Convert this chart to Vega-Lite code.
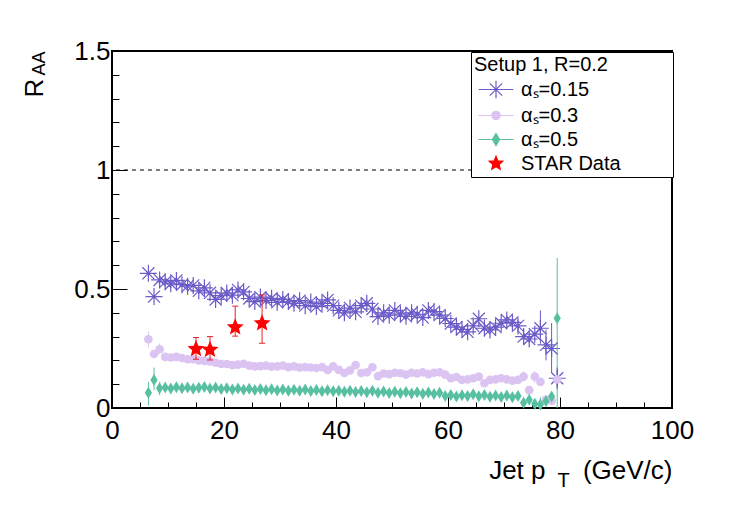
{
  "$schema": "https://vega.github.io/schema/vega-lite/v6.json",
  "width": 560,
  "height": 357,
  "autosize": {"type": "none"},
  "padding": {"left": 112, "top": 51, "right": 75, "bottom": 102},
  "background": "white",
  "config": {
    "font": "Liberation Sans",
    "view": {"stroke": "black", "strokeWidth": 2},
    "axis": {
      "grid": false,
      "domain": false,
      "labelFont": "Liberation Sans",
      "labelFontSize": 26,
      "labelColor": "black",
      "titleFont": "Liberation Sans",
      "titleFontWeight": "normal",
      "titleColor": "black",
      "tickColor": "black",
      "tickWidth": 1,
      "labelOverlap": false,
      "labelFlush": false,
      "labelBound": false
    }
  },
  "datasets": {
    "a015": [
      {"pt": 6.5, "r": 0.566}, {"pt": 7.5, "r": 0.468}, {"pt": 8.5, "r": 0.538}, {"pt": 9.5, "r": 0.53},
      {"pt": 10.5, "r": 0.522}, {"pt": 11.5, "r": 0.536}, {"pt": 12.5, "r": 0.518}, {"pt": 13.5, "r": 0.512},
      {"pt": 14.5, "r": 0.515}, {"pt": 15.5, "r": 0.492}, {"pt": 16.5, "r": 0.505}, {"pt": 17.5, "r": 0.484},
      {"pt": 18.5, "r": 0.456}, {"pt": 19.5, "r": 0.472}, {"pt": 20.5, "r": 0.483}, {"pt": 21.5, "r": 0.474},
      {"pt": 22.5, "r": 0.496}, {"pt": 23.5, "r": 0.488}, {"pt": 24.5, "r": 0.46}, {"pt": 25.5, "r": 0.447},
      {"pt": 26.5, "r": 0.466}, {"pt": 27.5, "r": 0.452}, {"pt": 28.5, "r": 0.461}, {"pt": 29.5, "r": 0.444},
      {"pt": 30.5, "r": 0.456}, {"pt": 31.5, "r": 0.447}, {"pt": 32.5, "r": 0.44}, {"pt": 33.5, "r": 0.451},
      {"pt": 34.5, "r": 0.43}, {"pt": 35.5, "r": 0.445}, {"pt": 36.5, "r": 0.426}, {"pt": 37.5, "r": 0.44},
      {"pt": 38.5, "r": 0.454}, {"pt": 39.5, "r": 0.43}, {"pt": 40.5, "r": 0.41}, {"pt": 41.5, "r": 0.4},
      {"pt": 42.5, "r": 0.42}, {"pt": 43.5, "r": 0.404}, {"pt": 44.5, "r": 0.43}, {"pt": 45.5, "r": 0.44},
      {"pt": 46.5, "r": 0.416}, {"pt": 47.5, "r": 0.384}, {"pt": 48.5, "r": 0.4}, {"pt": 49.5, "r": 0.39},
      {"pt": 50.5, "r": 0.41}, {"pt": 51.5, "r": 0.395}, {"pt": 52.5, "r": 0.385}, {"pt": 53.5, "r": 0.4},
      {"pt": 54.5, "r": 0.394}, {"pt": 55.5, "r": 0.38}, {"pt": 56.5, "r": 0.41}, {"pt": 57.5, "r": 0.405},
      {"pt": 58.5, "r": 0.39}, {"pt": 59.5, "r": 0.376}, {"pt": 60.5, "r": 0.355}, {"pt": 61.5, "r": 0.34},
      {"pt": 62.5, "r": 0.33}, {"pt": 63.5, "r": 0.32}, {"pt": 64.5, "r": 0.345}, {"pt": 65.5, "r": 0.375},
      {"pt": 66.5, "r": 0.335}, {"pt": 67.5, "r": 0.328}, {"pt": 68.5, "r": 0.34}, {"pt": 69.5, "r": 0.356},
      {"pt": 70.5, "r": 0.37}, {"pt": 71.5, "r": 0.36}, {"pt": 72.5, "r": 0.345}, {"pt": 73.5, "r": 0.3},
      {"pt": 74.5, "r": 0.29}, {"pt": 75.5, "r": 0.31}, {"pt": 76.5, "r": 0.335}, {"pt": 77.5, "r": 0.265},
      {"pt": 78.5, "r": 0.25}, {"pt": 79.5, "r": 0.125}
    ],
    "a03": [
      {"pt": 6.5, "r": 0.289}, {"pt": 7.5, "r": 0.227}, {"pt": 8.5, "r": 0.247}, {"pt": 9.5, "r": 0.215},
      {"pt": 10.5, "r": 0.212}, {"pt": 11.5, "r": 0.215}, {"pt": 12.5, "r": 0.21}, {"pt": 13.5, "r": 0.205},
      {"pt": 14.5, "r": 0.205}, {"pt": 15.5, "r": 0.2}, {"pt": 16.5, "r": 0.198}, {"pt": 17.5, "r": 0.196},
      {"pt": 18.5, "r": 0.19}, {"pt": 19.5, "r": 0.185}, {"pt": 20.5, "r": 0.185}, {"pt": 21.5, "r": 0.18},
      {"pt": 22.5, "r": 0.182}, {"pt": 23.5, "r": 0.186}, {"pt": 24.5, "r": 0.178}, {"pt": 25.5, "r": 0.175},
      {"pt": 26.5, "r": 0.176}, {"pt": 27.5, "r": 0.178}, {"pt": 28.5, "r": 0.174}, {"pt": 29.5, "r": 0.175},
      {"pt": 30.5, "r": 0.178}, {"pt": 31.5, "r": 0.172}, {"pt": 32.5, "r": 0.175}, {"pt": 33.5, "r": 0.17},
      {"pt": 34.5, "r": 0.172}, {"pt": 35.5, "r": 0.17}, {"pt": 36.5, "r": 0.168}, {"pt": 37.5, "r": 0.172},
      {"pt": 38.5, "r": 0.16}, {"pt": 39.5, "r": 0.175}, {"pt": 40.5, "r": 0.16}, {"pt": 41.5, "r": 0.147},
      {"pt": 42.5, "r": 0.158}, {"pt": 43.5, "r": 0.18}, {"pt": 44.5, "r": 0.147}, {"pt": 45.5, "r": 0.15},
      {"pt": 46.5, "r": 0.171}, {"pt": 47.5, "r": 0.134}, {"pt": 48.5, "r": 0.145}, {"pt": 49.5, "r": 0.142},
      {"pt": 50.5, "r": 0.148}, {"pt": 51.5, "r": 0.146}, {"pt": 52.5, "r": 0.14}, {"pt": 53.5, "r": 0.148},
      {"pt": 54.5, "r": 0.145}, {"pt": 55.5, "r": 0.15}, {"pt": 56.5, "r": 0.142}, {"pt": 57.5, "r": 0.148},
      {"pt": 58.5, "r": 0.15}, {"pt": 59.5, "r": 0.14}, {"pt": 60.5, "r": 0.125}, {"pt": 61.5, "r": 0.13},
      {"pt": 62.5, "r": 0.118}, {"pt": 63.5, "r": 0.12}, {"pt": 64.5, "r": 0.125}, {"pt": 65.5, "r": 0.132},
      {"pt": 66.5, "r": 0.104}, {"pt": 67.5, "r": 0.118}, {"pt": 68.5, "r": 0.12}, {"pt": 69.5, "r": 0.125},
      {"pt": 70.5, "r": 0.12}, {"pt": 71.5, "r": 0.115}, {"pt": 72.5, "r": 0.118}, {"pt": 73.5, "r": 0.132},
      {"pt": 74.5, "r": 0.075}, {"pt": 75.5, "r": 0.132}, {"pt": 76.5, "r": 0.11}, {"pt": 77.5, "r": 0.035},
      {"pt": 78.5, "r": 0.03}, {"pt": 79.5, "r": 0.12}
    ],
    "a05": [
      {"pt": 6.5, "r": 0.064}, {"pt": 7.5, "r": 0.118}, {"pt": 8.5, "r": 0.083}, {"pt": 9.5, "r": 0.086},
      {"pt": 10.5, "r": 0.082}, {"pt": 11.5, "r": 0.087}, {"pt": 12.5, "r": 0.083}, {"pt": 13.5, "r": 0.086},
      {"pt": 14.5, "r": 0.081}, {"pt": 15.5, "r": 0.085}, {"pt": 16.5, "r": 0.088}, {"pt": 17.5, "r": 0.082},
      {"pt": 18.5, "r": 0.086}, {"pt": 19.5, "r": 0.08}, {"pt": 20.5, "r": 0.083}, {"pt": 21.5, "r": 0.078},
      {"pt": 22.5, "r": 0.082}, {"pt": 23.5, "r": 0.077}, {"pt": 24.5, "r": 0.081}, {"pt": 25.5, "r": 0.076},
      {"pt": 26.5, "r": 0.08}, {"pt": 27.5, "r": 0.075}, {"pt": 28.5, "r": 0.079}, {"pt": 29.5, "r": 0.074},
      {"pt": 30.5, "r": 0.078}, {"pt": 31.5, "r": 0.073}, {"pt": 32.5, "r": 0.077}, {"pt": 33.5, "r": 0.072},
      {"pt": 34.5, "r": 0.078}, {"pt": 35.5, "r": 0.071}, {"pt": 36.5, "r": 0.076}, {"pt": 37.5, "r": 0.07},
      {"pt": 38.5, "r": 0.075}, {"pt": 39.5, "r": 0.07}, {"pt": 40.5, "r": 0.073}, {"pt": 41.5, "r": 0.068},
      {"pt": 42.5, "r": 0.072}, {"pt": 43.5, "r": 0.067}, {"pt": 44.5, "r": 0.071}, {"pt": 45.5, "r": 0.066},
      {"pt": 46.5, "r": 0.072}, {"pt": 47.5, "r": 0.064}, {"pt": 48.5, "r": 0.069}, {"pt": 49.5, "r": 0.063},
      {"pt": 50.5, "r": 0.068}, {"pt": 51.5, "r": 0.062}, {"pt": 52.5, "r": 0.067}, {"pt": 53.5, "r": 0.061},
      {"pt": 54.5, "r": 0.066}, {"pt": 55.5, "r": 0.06}, {"pt": 56.5, "r": 0.065}, {"pt": 57.5, "r": 0.059},
      {"pt": 58.5, "r": 0.064}, {"pt": 59.5, "r": 0.05}, {"pt": 60.5, "r": 0.055}, {"pt": 61.5, "r": 0.048},
      {"pt": 62.5, "r": 0.054}, {"pt": 63.5, "r": 0.05}, {"pt": 64.5, "r": 0.058}, {"pt": 65.5, "r": 0.049},
      {"pt": 66.5, "r": 0.055}, {"pt": 67.5, "r": 0.047}, {"pt": 68.5, "r": 0.053}, {"pt": 69.5, "r": 0.046},
      {"pt": 70.5, "r": 0.052}, {"pt": 71.5, "r": 0.045}, {"pt": 72.5, "r": 0.05}, {"pt": 73.5, "r": 0.022},
      {"pt": 74.5, "r": 0.035}, {"pt": 75.5, "r": 0.018}, {"pt": 76.5, "r": 0.015}, {"pt": 77.5, "r": 0.028},
      {"pt": 78.5, "r": 0.048}, {"pt": 79.5, "r": 0.377}
    ],
    "err": [
      {"s": "\u03b1\u209b=0.3", "pt": 6.5, "lo": 0.255, "hi": 0.322},
      {"s": "\u03b1\u209b=0.3", "pt": 7.5, "lo": 0.212, "hi": 0.242},
      {"s": "\u03b1\u209b=0.3", "pt": 8.5, "lo": 0.225, "hi": 0.27},
      {"s": "\u03b1\u209b=0.3", "pt": 73.5, "lo": 0.11, "hi": 0.155},
      {"s": "\u03b1\u209b=0.3", "pt": 75.5, "lo": 0.105, "hi": 0.155},
      {"s": "\u03b1\u209b=0.5", "pt": 6.5, "lo": 0.01, "hi": 0.11},
      {"s": "\u03b1\u209b=0.5", "pt": 7.5, "lo": 0.075, "hi": 0.17},
      {"s": "\u03b1\u209b=0.5", "pt": 8.5, "lo": 0.055, "hi": 0.11},
      {"s": "\u03b1\u209b=0.5", "pt": 76.5, "lo": 0.0, "hi": 0.045},
      {"s": "\u03b1\u209b=0.5", "pt": 79.5, "lo": 0.0, "hi": 0.63},
      {"s": "\u03b1\u209b=0.15", "pt": 72.5, "lo": 0.32, "hi": 0.37},
      {"s": "\u03b1\u209b=0.15", "pt": 73.5, "lo": 0.27, "hi": 0.33},
      {"s": "\u03b1\u209b=0.15", "pt": 76.5, "lo": 0.27, "hi": 0.41},
      {"s": "\u03b1\u209b=0.15", "pt": 77.5, "lo": 0.2, "hi": 0.33},
      {"s": "\u03b1\u209b=0.15", "pt": 78.5, "lo": 0.147, "hi": 0.357},
      {"s": "\u03b1\u209b=0.15", "pt": 79.5, "lo": 0.08, "hi": 0.17}
    ],
    "star": [
      {"pt": 15.0, "r": 0.248, "lo": 0.205, "hi": 0.296},
      {"pt": 17.5, "r": 0.245, "lo": 0.202, "hi": 0.3},
      {"pt": 22.0, "r": 0.339, "lo": 0.302, "hi": 0.428},
      {"pt": 26.8, "r": 0.356, "lo": 0.272, "hi": 0.475}
    ]
  },
  "resolve": {"axis": {"x": "independent", "y": "independent"}},
  "layer": [
    {
      "data": {"values": [{}]},
      "mark": {"type": "rule", "strokeDash": [4, 4], "color": "black", "strokeWidth": 1},
      "encoding": {
        "y": {"datum": 1, "type": "quantitative", "scale": {"domain": [0, 1.5], "nice": false}, "axis": null}
      }
    },
    {
      "data": {"name": "err"},
      "mark": {"type": "rule", "strokeWidth": 1},
      "encoding": {
        "x": {"field": "pt", "type": "quantitative", "axis": null},
        "y": {"field": "lo", "type": "quantitative", "axis": null},
        "y2": {"field": "hi"},
        "color": {
          "field": "s",
          "type": "nominal",
          "scale": {
            "domain": ["\u03b1\u209b=0.15", "\u03b1\u209b=0.3", "\u03b1\u209b=0.5", "STAR Data"],
            "range": ["#6A5BC8", "#DCC4F2", "#58C0A0", "#FF0000"]
          },
          "legend": {
            "title": "Setup 1, R=0.2",
            "orient": "none",
            "legendX": 359,
            "legendY": 1,
            "padding": 3,
            "strokeColor": "black",
            "fillColor": "white",
            "titleFont": "Liberation Sans",
            "titleFontSize": 20,
            "titleFontWeight": "normal",
            "titleColor": "black",
            "titlePadding": 3.5,
            "titleLimit": 400,
            "labelFont": "Liberation Sans",
            "labelFontSize": 20,
            "labelColor": "black",
            "labelOffset": 14,
            "labelLimit": 400,
            "symbolOffset": 11,
            "rowPadding": 3,
            "encode": {
              "symbols": {
                "update": {
                  "shape": {"signal": "['M-1.75,0L1.75,0M0,-0.875L0,0.875M-0.619,-0.619L0.619,0.619M-0.619,0.619L0.619,-0.619', 'M-1.75,0L1.75,0M-0.42,0A0.42,0.42,0,1,0,0.42,0A0.42,0.42,0,1,0,-0.42,0Z', 'M-1.75,0L1.75,0M0,-0.6L0.35,0L0,0.6L-0.35,0Z', 'M0,-0.72L0.191,-0.262L0.685,-0.222L0.308,0.1L0.423,0.582L0,0.324L-0.423,0.582L-0.308,0.1L-0.685,-0.222L-0.191,-0.262ZM17.1,0L17.1,0'][datum.index]"},
                  "size": {"value": 400},
                  "fill": {"signal": "['transparent', '#DCC4F2', '#58C0A0', '#FF0000'][datum.index]"},
                  "stroke": {"signal": "['#6A5BC8', '#DCC4F2', '#58C0A0', 'transparent'][datum.index]"},
                  "strokeWidth": {"value": 1.2},
                  "strokeDash": {"value": []},
                  "opacity": {"value": 1}
                }
              }
            }
          }
        }
      }
    },
    {
      "data": {"name": "a015"},
      "mark": {
        "type": "point",
        "shape": "M-1,0L1,0M0,-1L0,1M-0.707,-0.707L0.707,0.707M-0.707,0.707L0.707,-0.707",
        "filled": false,
        "size": 289,
        "strokeWidth": 1.2,
        "opacity": 1
      },
      "encoding": {
        "x": {
          "field": "pt",
          "type": "quantitative",
          "scale": {"domain": [0, 100], "nice": false},
          "axis": {
            "orient": "bottom",
            "values": [0, 20, 40, 60, 80, 100],
            "tickSize": -11,
            "labelPadding": 20,
            "title": "(GeV/c)",
            "titleFontSize": 26,
            "titleX": 560,
            "titleY": 70,
            "titleAlign": "right",
            "titleBaseline": "alphabetic"
          }
        },
        "y": {
          "field": "r",
          "type": "quantitative",
          "scale": {"domain": [0, 1.5], "nice": false},
          "axis": {
            "orient": "left",
            "values": [0, 0.5, 1, 1.5],
            "labelExpr": "'' + datum.value",
            "tickSize": -15,
            "labelPadding": 17,
            "title": "R",
            "titleFontSize": 26,
            "titleAngle": 270,
            "titleX": -70,
            "titleY": 46,
            "titleAlign": "left",
            "titleBaseline": "alphabetic"
          }
        },
        "color": {"datum": "\u03b1\u209b=0.15", "type": "nominal"}
      }
    },
    {
      "data": {"name": "a03"},
      "mark": {"type": "circle", "size": 75, "opacity": 1},
      "encoding": {
        "x": {
          "field": "pt",
          "type": "quantitative",
          "axis": {
            "orient": "bottom",
            "values": [5, 10, 15, 25, 30, 35, 45, 50, 55, 65, 70, 75, 85, 90, 95],
            "tickSize": -6,
            "labels": false,
            "title": "T",
            "titleFontSize": 20,
            "titleX": 451,
            "titleY": 78,
            "titleAlign": "center",
            "titleBaseline": "alphabetic",
            "domain": false
          }
        },
        "y": {
          "field": "r",
          "type": "quantitative",
          "axis": {
            "orient": "left",
            "values": [0.1, 0.2, 0.3, 0.4, 0.6, 0.7, 0.8, 0.9, 1.1, 1.2, 1.3, 1.4],
            "tickSize": -7,
            "labels": false,
            "title": "AA",
            "titleFontSize": 18,
            "titleAngle": 270,
            "titleX": -68,
            "titleY": 24,
            "titleAlign": "left",
            "titleBaseline": "alphabetic",
            "domain": false
          }
        },
        "color": {"datum": "\u03b1\u209b=0.3", "type": "nominal"}
      }
    },
    {
      "data": {"name": "a05"},
      "mark": {"type": "point", "shape": "M0,-1L0.6,0L0,1L-0.6,0Z", "filled": true, "size": 144, "opacity": 1},
      "encoding": {
        "x": {
          "field": "pt",
          "type": "quantitative",
          "axis": {
            "orient": "bottom",
            "title": "Jet p",
            "titleFontSize": 26,
            "titleX": 433,
            "titleY": 70,
            "titleAlign": "right",
            "titleBaseline": "alphabetic",
            "ticks": false,
            "labels": false,
            "domain": false
          }
        },
        "y": {"field": "r", "type": "quantitative", "axis": null},
        "color": {"datum": "\u03b1\u209b=0.5", "type": "nominal"}
      }
    },
    {
      "data": {"name": "star"},
      "mark": {"type": "rule", "color": "#E8202A", "strokeWidth": 1},
      "encoding": {
        "x": {"field": "pt", "type": "quantitative", "axis": null},
        "y": {"field": "lo", "type": "quantitative", "axis": null},
        "y2": {"field": "hi"}
      }
    },
    {
      "data": {"name": "star"},
      "mark": {"type": "tick", "orient": "horizontal", "color": "#E8202A", "size": 6, "thickness": 1, "opacity": 1},
      "encoding": {
        "x": {"field": "pt", "type": "quantitative", "axis": null},
        "y": {"field": "lo", "type": "quantitative", "axis": null}
      }
    },
    {
      "data": {"name": "star"},
      "mark": {"type": "tick", "orient": "horizontal", "color": "#E8202A", "size": 6, "thickness": 1, "opacity": 1},
      "encoding": {
        "x": {"field": "pt", "type": "quantitative", "axis": null},
        "y": {"field": "hi", "type": "quantitative", "axis": null}
      }
    },
    {
      "data": {"name": "star"},
      "mark": {
        "type": "point",
        "shape": "M0,-1L0.265,-0.364L0.951,-0.309L0.428,0.139L0.588,0.809L0,0.45L-0.588,0.809L-0.428,0.139L-0.951,-0.309L-0.265,-0.364Z",
        "filled": true,
        "size": 320,
        "opacity": 1
      },
      "encoding": {
        "x": {"field": "pt", "type": "quantitative", "axis": null},
        "y": {"field": "r", "type": "quantitative", "axis": null},
        "color": {"datum": "STAR Data", "type": "nominal"}
      }
    }
  ]
}
